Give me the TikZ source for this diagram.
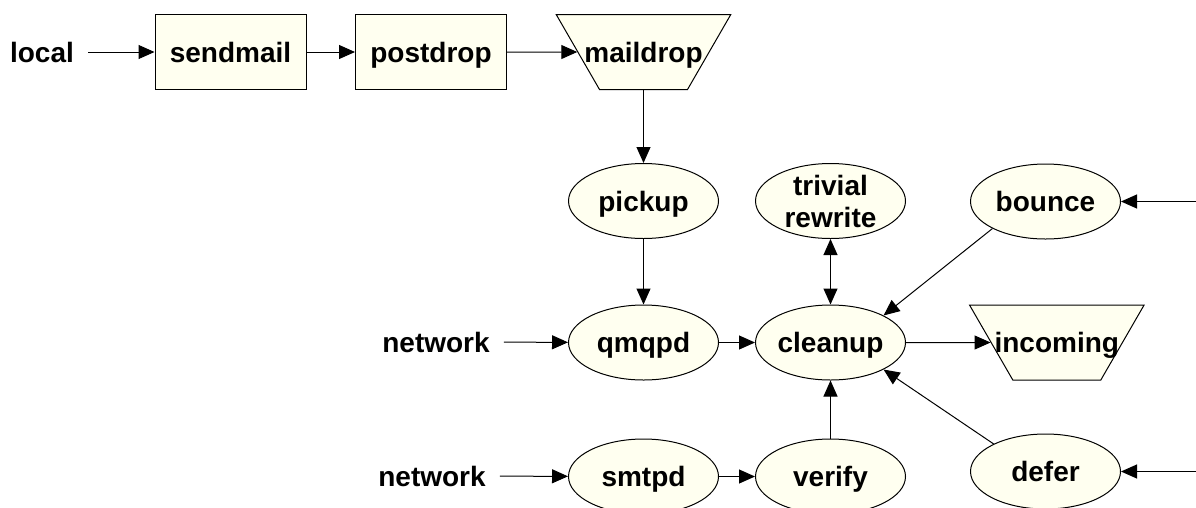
\documentclass[tikz,border=0pt]{standalone}
\usepackage{fontspec}
\setmainfont{Liberation Sans}
\usetikzlibrary{arrows.meta, shapes.geometric}
\definecolor{boxfill}{RGB}{255,255,240}

\begin{document}
\begin{tikzpicture}[x=1pt, y=-1pt,
    every node/.style={font=\fontsize{28}{32}\selectfont\bfseries},
    base/.style={draw, fill=boxfill, line width=1pt, inner sep=0pt, text height=20pt, text depth=0pt},
    prog/.style={base, rectangle, minimum width=151pt, minimum height=75pt},
    daemon/.style={base, ellipse, minimum width=150pt, minimum height=75pt},
    queue/.style={base, trapezium, trapezium angle=60, shape border rotate=180,
        inner xsep=44pt, inner ysep=27.5pt},
    src/.style={inner xsep=14pt, inner ysep=0pt, text height=20pt, text depth=0pt},
    arr/.style={line width=1pt, -{Triangle[length=16pt, width=14pt]}},
    arr2/.style={line width=1pt, {Triangle[length=16pt, width=14pt]}-{Triangle[length=16pt, width=14pt]}}
]
    \useasboundingbox (0,0) rectangle (1196,507);

    % local submission
    \node[src] (local) at (42,52) {local};
    \node[prog] (sendmail) at (230.5,52) {sendmail};
    \node[prog] (postdrop) at (431,52) {postdrop};
    \node[queue] (maildrop) at (643.5,52) {\makebox[0pt]{maildrop}};

    % daemons
    \node[daemon] (pickup) at (643.5,201) {pickup};
    \node[daemon, align=center, text height=, text depth=] (trivial) at (830.5,201) {trivial\\rewrite};
    \node[daemon] (bounce) at (1045.5,201.5) {bounce};
    \node[src] (net1) at (436,342) {network};
    \node[daemon] (qmqpd) at (643.5,342.5) {qmqpd};
    \node[daemon] (cleanup) at (830.5,342.5) {cleanup};
    \node[queue] (incoming) at (1056.8,342.5) {\makebox[0pt]{incoming}};
    \node[src] (net2) at (432,476) {network};
    \node[daemon] (smtpd) at (643.5,476.5) {smtpd};
    \node[daemon] (verify) at (830.5,476.5) {verify};
    \node[daemon] (defer) at (1045.5,471.5) {defer};
    \coordinate (bin) at (1196,201.5);
    \coordinate (din) at (1196,471.5);

    \draw[arr] (local) -- (sendmail);
    \draw[arr] (sendmail) -- (postdrop);
    \draw[arr] (postdrop) -- (maildrop);
    \draw[arr] (maildrop) -- (pickup);
    \draw[arr] (pickup) -- (qmqpd);
    \draw[arr] (net1) -- (qmqpd);
    \draw[arr] (qmqpd) -- (cleanup);
    \draw[arr2] (cleanup) -- (trivial);
    \draw[arr] (cleanup) -- (incoming);
    \draw[arr] (bounce.207) -- (cleanup.27);
    \draw[arr] (defer.152) -- (cleanup.-27);
    \draw[arr] (verify) -- (cleanup);
    \draw[arr] (net2) -- (smtpd);
    \draw[arr] (smtpd) -- (verify);
    \draw[arr] (bin) -- (bounce);
    \draw[arr] (din) -- (defer);
\end{tikzpicture}
\end{document}
